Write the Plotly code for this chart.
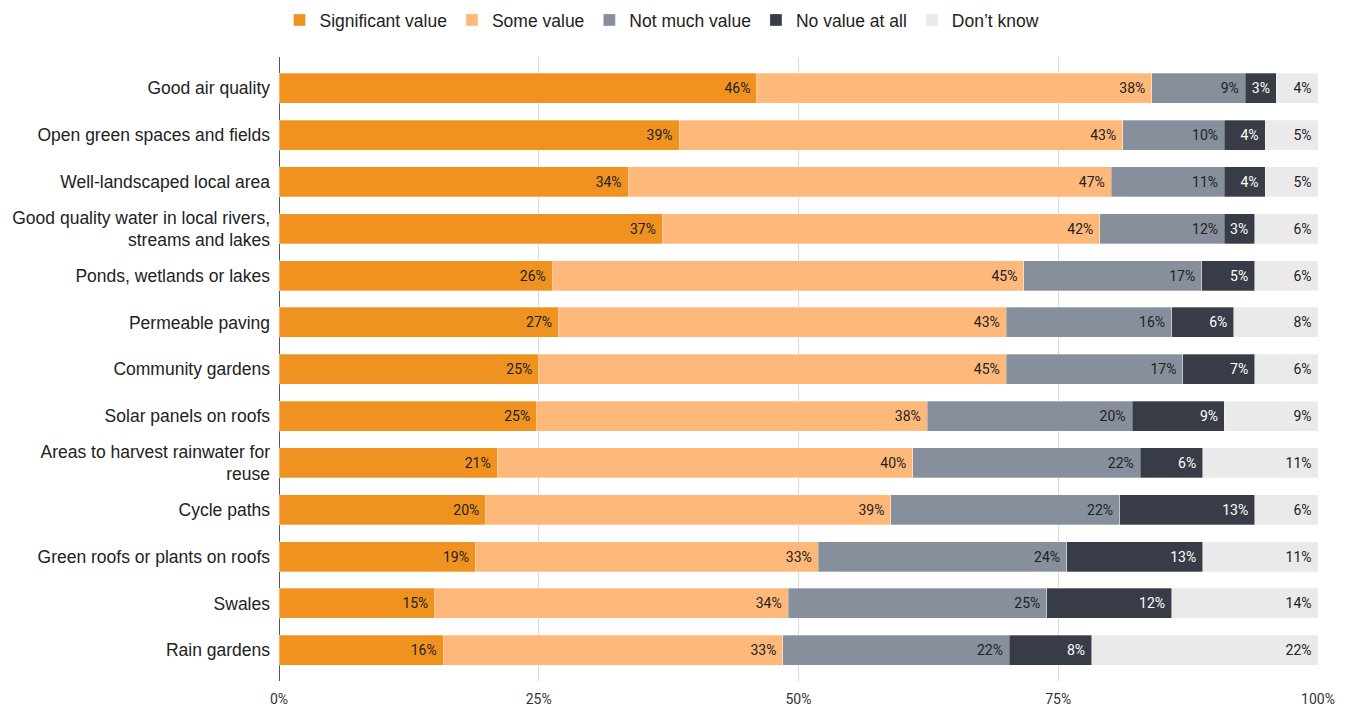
import plotly.graph_objects as go

categories = [
    "Good air quality",
    "Open green spaces and fields",
    "Well-landscaped local area",
    "Good quality water in local rivers,<br>streams and lakes",
    "Ponds, wetlands or lakes",
    "Permeable paving",
    "Community gardens",
    "Solar panels on roofs",
    "Areas to harvest rainwater for<br>reuse",
    "Cycle paths",
    "Green roofs or plants on roofs",
    "Swales",
    "Rain gardens",
]

significant_value = [46.0, 38.5, 33.6, 36.9, 26.3, 26.9, 25.0, 24.8, 21.0, 19.9, 18.9, 15.0, 15.8]
some_value = [38.0, 42.7, 46.5, 42.1, 45.4, 43.1, 45.0, 37.6, 40.0, 39.0, 33.0, 34.0, 32.7]
not_much_value = [9.0, 9.8, 10.9, 12.0, 17.1, 15.9, 17.0, 19.7, 21.9, 22.0, 23.9, 24.9, 21.8]
no_value_at_all = [3.0, 3.9, 3.9, 2.9, 5.1, 6.0, 6.9, 8.9, 6.0, 13.0, 13.1, 12.0, 7.9]
dont_know = [4.0, 5.1, 5.1, 6.1, 6.1, 8.1, 6.1, 9.0, 11.1, 6.1, 11.1, 14.1, 21.8]

tick_values = [0, 25, 50, 75, 100]
tick_labels = ["0%", "25%", "50%", "75%", "100%"]

series = [
    ("Significant value", significant_value, "#F0921F", "#222222"),
    ("Some value", some_value, "#FEB87A", "#222222"),
    ("Not much value", not_much_value, "#878F9C", "#222222"),
    ("No value at all", no_value_at_all, "#383C46", "#FFFFFF"),
    ("Don\u2019t know", dont_know, "#EAEAEA", "#222222"),
]

fig = go.Figure()
for name, values, color, text_color in series:
    fig.add_trace(go.Bar(
        name=name,
        y=categories,
        x=values,
        orientation="h",
        width=0.64,
        marker=dict(color=color, line=dict(color="rgba(255,255,255,0.5)", width=0.6)),
        texttemplate="%{x:.0f}%\u00a0",
        textposition="inside",
        insidetextanchor="end",
        textangle=0,
        textfont=dict(family="Roboto", size=14, color=text_color),
        hoverinfo="skip",
    ))

fig.update_layout(
    barmode="stack",
    width=1348,
    height=707,
    margin=dict(l=279, r=30, t=57, b=26, autoexpand=False),
    plot_bgcolor="white",
    paper_bgcolor="white",
    font=dict(family="Liberation Sans, Arial, sans-serif", color="#222222"),
    legend=dict(
        orientation="h",
        x=0.3686,
        xanchor="center",
        xref="paper",
        y=1 - 20 / 707,
        yref="container",
        yanchor="middle",
        font=dict(family="Liberation Sans, Arial, sans-serif", size=17.5, color="#222222"),
        traceorder="normal",
    ),
)

fig.update_xaxes(
    range=[0, 100],
    tickvals=tick_values,
    ticktext=tick_labels,
    showgrid=True,
    gridcolor="#D9D9D9",
    gridwidth=1,
    zeroline=True,
    zerolinecolor="#555555",
    zerolinewidth=1,
    showline=False,
    ticks="outside",
    ticklen=5,
    tickcolor="rgba(0,0,0,0)",
    tickfont=dict(family="Roboto", size=14, color="#333333"),
    automargin=False,
    fixedrange=True,
)

fig.update_yaxes(
    range=[12.656, -0.668],
    showgrid=False,
    zeroline=False,
    showline=False,
    ticks="",
    ticklabelstandoff=8,
    tickfont=dict(family="Liberation Sans, Arial, sans-serif", size=17.5, color="#222222"),
    automargin=False,
    fixedrange=True,
)

fig.write_html("out.html")
